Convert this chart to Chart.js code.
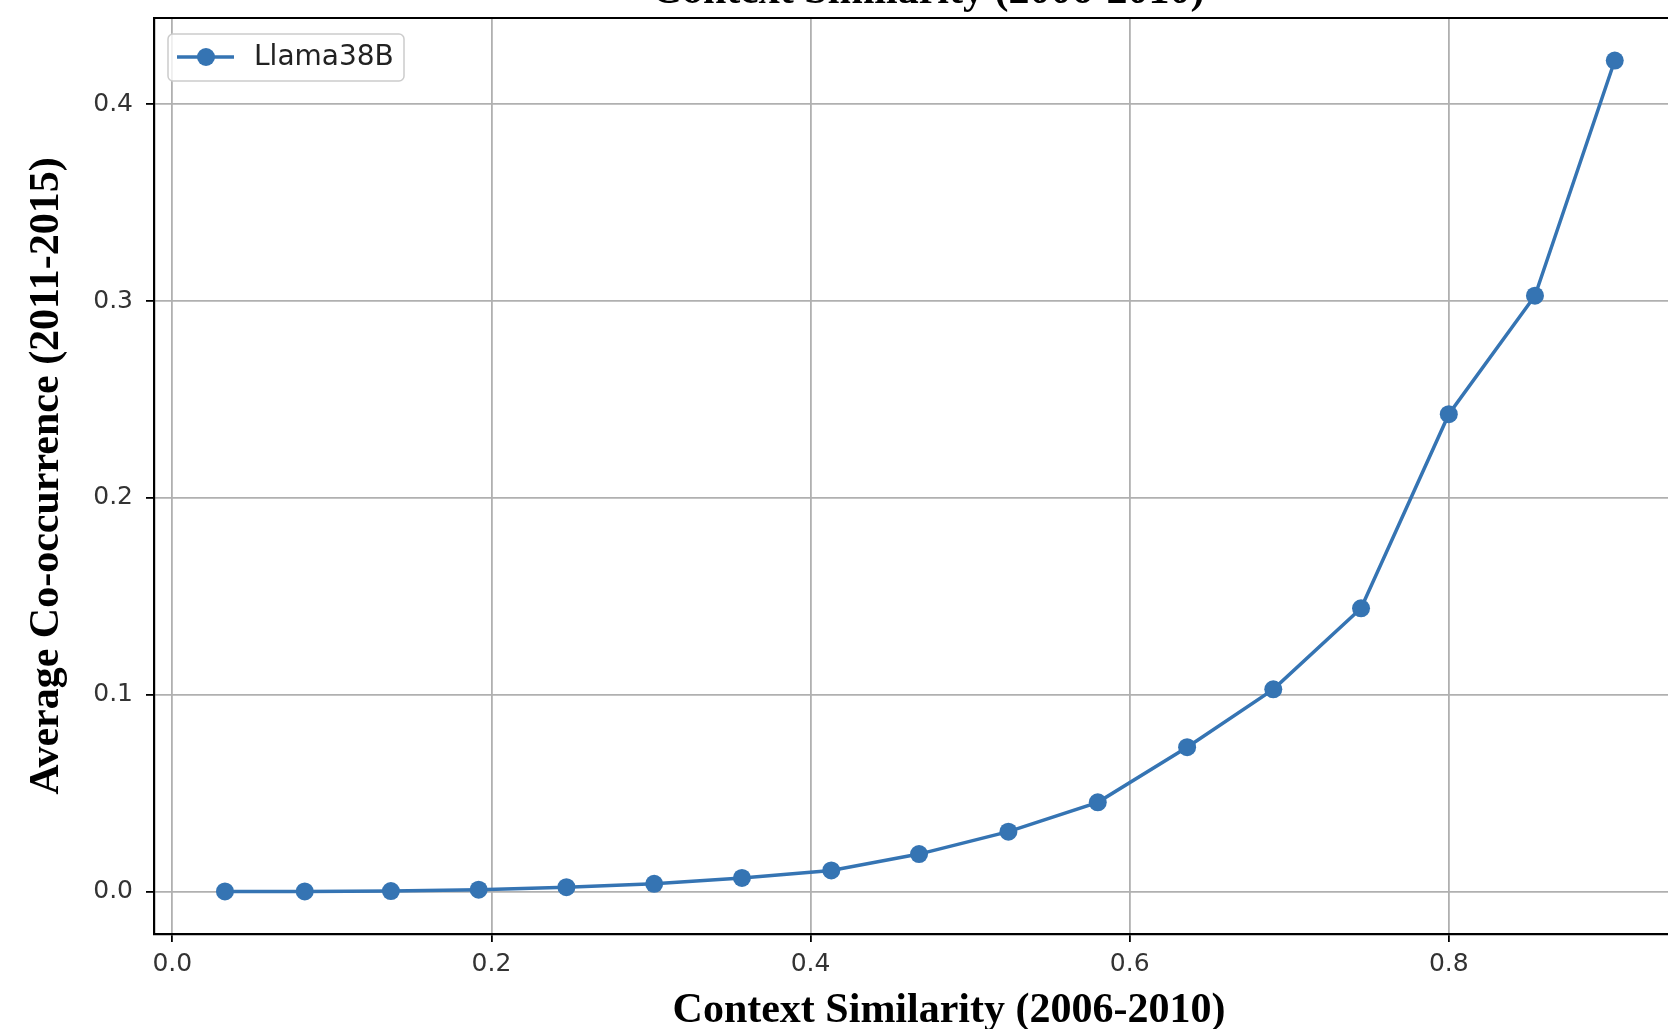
<!DOCTYPE html>
<html>
<head>
<meta charset="utf-8">
<title>Context Similarity vs Average Co-occurrence</title>
<script src="https://cdn.jsdelivr.net/npm/chart.js@4.4.1/dist/chart.umd.min.js"></script>
<style>
    html, body { margin: 0; padding: 0; background: #fff; overflow: hidden; }
    #wrap { position: relative; width: 1668px; height: 1029px; overflow: hidden; }
    #chart { position: absolute; left: 0; top: 0; }
</style>
</head>
<body>
<div id="wrap">
    <canvas id="chart" width="1760" height="1029"></canvas>
</div>
<script>
// values
const seriesLabel = 'Llama38B';
const similarity = [0.033, 0.083, 0.137, 0.192, 0.247, 0.302, 0.357, 0.413, 0.468,
                    0.524, 0.580, 0.636, 0.690, 0.745, 0.800, 0.854, 0.904];
const cooccurrence = [0.0000, 0.0000, 0.0002, 0.0009, 0.0022, 0.0039, 0.0069, 0.0107, 0.0190,
                      0.0304, 0.0453, 0.0733, 0.1027, 0.1439, 0.2425, 0.3027, 0.4222];
const xTicks = [0.0, 0.2, 0.4, 0.6, 0.8];
const yTicks = [0.0, 0.1, 0.2, 0.3, 0.4];

const titleText = 'Context Similarity (2006-2010)';
const xLabel = 'Context Similarity (2006-2010)';
const yLabel = 'Average Co-occurrence (2011-2015)';

const lineColor = '#3574b3';
const tickFont = { family: 'DejaVu Sans', size: 25 };

// top spine, cut-off title and the legend box (matplotlib style)
const extras = {
    id: 'extras',
    afterDatasetsDraw(chart) {
        const ctx = chart.ctx;
        const area = chart.chartArea;
        ctx.save();
        // top spine
        ctx.strokeStyle = '#000';
        ctx.lineWidth = 2;
        ctx.beginPath();
        ctx.moveTo(area.left - 1, area.top);
        ctx.lineTo(area.right, area.top);
        ctx.stroke();

        // legend
        const ds = chart.data.datasets[0];
        ctx.fillStyle = 'rgba(255,255,255,0.8)';
        ctx.strokeStyle = '#cccccc';
        ctx.lineWidth = 1.5;
        ctx.beginPath();
        ctx.roundRect(168, 34, 236, 47, 5);
        ctx.fill();
        ctx.stroke();

        ctx.strokeStyle = ds.borderColor;
        ctx.lineWidth = ds.borderWidth;
        ctx.beginPath();
        ctx.moveTo(177, 57);
        ctx.lineTo(234, 57);
        ctx.stroke();
        ctx.fillStyle = ds.pointBackgroundColor;
        ctx.beginPath();
        ctx.arc(206, 57, ds.pointRadius, 0, Math.PI * 2);
        ctx.fill();

        ctx.fillStyle = '#222';
        ctx.font = '28px "DejaVu Sans"';
        ctx.textBaseline = 'middle';
        ctx.textAlign = 'left';
        ctx.fillText(ds.label, 254, 58);
        ctx.restore();
    },
    afterDraw(chart) {
        const ctx = chart.ctx;
        ctx.save();
        ctx.fillStyle = '#000';
        ctx.font = 'bold 42px "Liberation Serif"';
        ctx.textAlign = 'center';
        ctx.textBaseline = 'alphabetic';
        ctx.fillText(titleText, 928, 3);
        ctx.restore();
    }
};

const ctx = document.getElementById('chart').getContext('2d');
const chart = new Chart(ctx, {
    type: 'line',
    data: {
        datasets: [{
            label: seriesLabel,
            data: similarity.map((x, i) => ({ x: x, y: cooccurrence[i] })),
            borderColor: lineColor,
            backgroundColor: lineColor,
            pointBackgroundColor: lineColor,
            pointBorderColor: lineColor,
            pointBorderWidth: 0,
            pointRadius: 9,
            borderWidth: 3.5,
            tension: 0,
            fill: false
        }]
    },
    options: {
        responsive: false,
        animation: false,
        devicePixelRatio: 1,
        layout: { padding: { top: 18, right: 16, left: 0, bottom: 0 } },
        plugins: {
            legend: { display: false },
            tooltip: { enabled: false }
        },
        scales: {
            x: {
                type: 'linear',
                min: -0.01147,
                max: 0.985,
                afterBuildTicks: function(scale) {
                    scale.ticks = xTicks.map(v => ({ value: v }));
                },
                afterFit: function(scale) {
                    scale.height = 95;
                    scale.paddingLeft = 0;
                    scale.paddingRight = 0;
                },
                ticks: {
                    font: tickFont,
                    color: '#333',
                    padding: 7,
                    maxRotation: 0,
                    autoSkip: false,
                    callback: v => v.toFixed(1)
                },
                grid: {
                    color: '#b0b0b0',
                    lineWidth: 1.8,
                    tickColor: '#000',
                    tickLength: 8,
                    tickWidth: 1.8
                },
                border: { color: '#000', width: 2.2 },
                title: {
                    display: true,
                    text: xLabel,
                    color: '#000',
                    font: { family: 'Liberation Serif', size: 42, weight: 'bold', lineHeight: 0.7 },
                    padding: { top: 0, bottom: 3 }
                }
            },
            y: {
                type: 'linear',
                min: -0.0216,
                max: 0.4438,
                afterBuildTicks: function(scale) {
                    scale.ticks = yTicks.map(v => ({ value: v }));
                },
                afterFit: function(scale) {
                    scale.width = 154;
                    scale.paddingTop = 0;
                    scale.paddingBottom = 0;
                },
                ticks: {
                    font: tickFont,
                    color: '#333',
                    padding: 13,
                    autoSkip: false,
                    callback: v => v.toFixed(1)
                },
                grid: {
                    color: '#b0b0b0',
                    lineWidth: 1.8,
                    tickColor: '#000',
                    tickLength: 8,
                    tickWidth: 1.8
                },
                border: { color: '#000', width: 2.2 },
                title: {
                    display: true,
                    text: yLabel,
                    color: '#000',
                    font: { family: 'Liberation Serif', size: 42, weight: 'bold', lineHeight: 1 },
                    padding: { top: 26, bottom: 0 }
                }
            }
        }
    },
    plugins: [extras]
});
</script>
</body>
</html>
